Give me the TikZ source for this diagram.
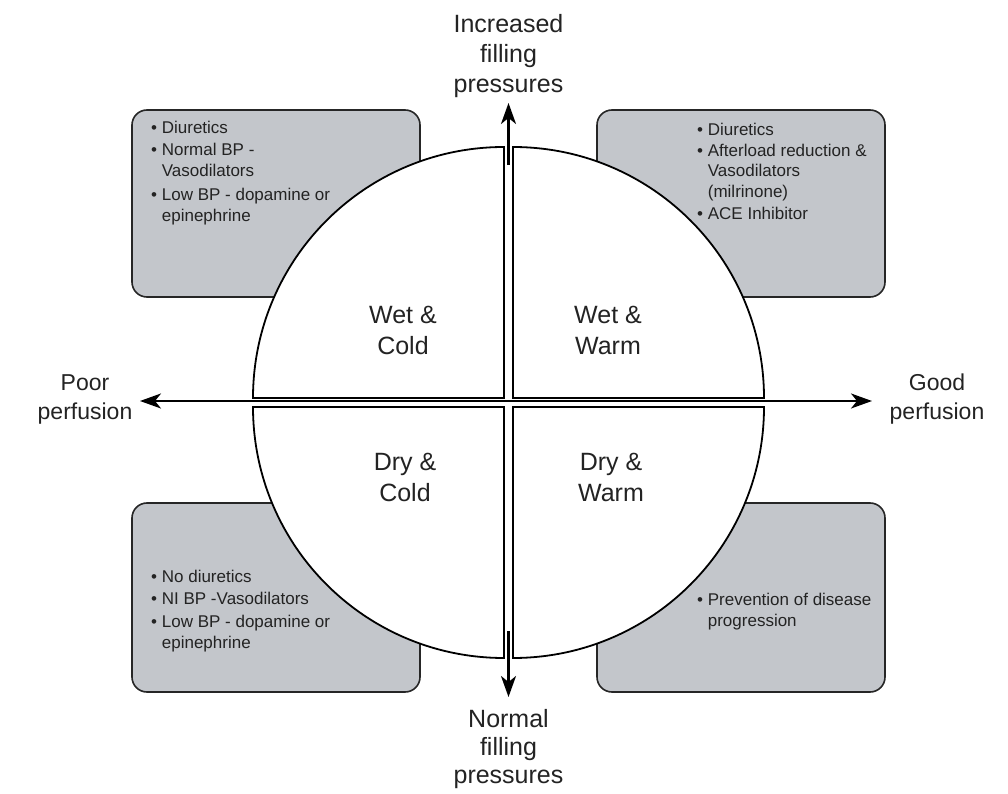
\documentclass[tikz,border=0pt]{standalone}
\usepackage{fontspec}
\setmainfont{Liberation Sans}
\usetikzlibrary{arrows.meta}
\definecolor{boxgray}{RGB}{195,198,203}
\definecolor{txt}{RGB}{35,35,35}
\begin{document}
\begin{tikzpicture}[x=1pt,y=1pt,
  infobox/.style={draw=black!85, line width=1.6pt, fill=boxgray, rounded corners=15pt},
  quad/.style={draw=black, line width=1.8pt, fill=white},
  tipstyle/.style={line width=2.2pt},
  biglabel/.style={font=\fontsize{25}{30}\selectfont, align=center, text=txt, inner sep=0pt, anchor=north},
  sidelabel/.style={biglabel, font=\fontsize{23}{29}\selectfont},
  boxtext/.style={font=\fontsize{17}{20.5}\selectfont, align=left, text=txt, inner sep=0pt, anchor=north west}
]
\useasboundingbox (0,0) rectangle (1008,793);
\fill[white] (0,0) rectangle (1008,793);

% grey treatment boxes
\draw[infobox] (132,496) rectangle (420,683);
\draw[infobox] (597,496) rectangle (885,683);
\draw[infobox] (132,101) rectangle (420,290);
\draw[infobox] (597,101) rectangle (885,290);

% four quadrants
\draw[quad] (504,395) -- (253,395) arc[start angle=180, end angle=90, radius=251pt] -- cycle;
\draw[quad] (513,395) -- (513,646) arc[start angle=90, end angle=0, radius=251pt] -- cycle;
\draw[quad] (504,386) -- (504,135) arc[start angle=270, end angle=180, radius=251pt] -- cycle;
\draw[quad] (513,386) -- (764,386) arc[start angle=0, end angle=-90, radius=251pt] -- cycle;

% axes
\coordinate (hl) at (140,392);
\coordinate (hr) at (872,392);
\coordinate (vtopin) at (508.5,628);
\coordinate (vtop) at (508.5,690);
\coordinate (vbotin) at (508.5,162);
\coordinate (vbot) at (508.5,96);
\draw[tipstyle, {Stealth[length=21pt,width=15pt,inset=6pt]}-{Stealth[length=21pt,width=15pt,inset=6pt]}] (hl) -- (hr);
\draw[tipstyle, -{Stealth[length=21pt,width=15pt,inset=6pt]}] (vtopin) -- (vtop);
\draw[tipstyle, -{Stealth[length=21pt,width=15pt,inset=6pt]}] (vbotin) -- (vbot);

% axis labels
\node[biglabel] (inc) at (508.5,779) {Increased\\filling\\pressures};
\node[biglabel, font=\fontsize{25}{28}\selectfont] (nor) at (508.5,84) {Normal\\filling\\pressures};
\node[sidelabel] (poor) at (85,419) {Poor\\perfusion};
\node[sidelabel] (good) at (937,419) {Good\\perfusion};

% quadrant labels
\node[biglabel, font=\fontsize{25}{31}\selectfont] (wc) at (403,487) {Wet \&\\Cold};
\node[biglabel, font=\fontsize{25}{31}\selectfont] (ww) at (608,487) {Wet \&\\Warm};
\node[biglabel, font=\fontsize{25}{31}\selectfont] (dc) at (405,340) {Dry \&\\Cold};
\node[biglabel, font=\fontsize{25}{31}\selectfont] (dw) at (611,340) {Dry \&\\Warm};

% box texts
\node[boxtext] (tlt) at (151,672) {\textbullet\ Diuretics\\[1.5pt]
  \textbullet\ Normal BP -\\
  \hphantom{\textbullet\ }Vasodilators\\[4pt]
  \textbullet\ Low BP - dopamine or\\
  \hphantom{\textbullet\ }epinephrine};
\node[boxtext] (trt) at (697,670) {\textbullet\ Diuretics\\
  \textbullet\ Afterload reduction \&\\
  \hphantom{\textbullet\ }Vasodilators\\
  \hphantom{\textbullet\ }(milrinone)\\[1.5pt]
  \textbullet\ ACE Inhibitor};
\node[boxtext] (blt) at (151,223) {\textbullet\ No diuretics\\[1.5pt]
  \textbullet\ NI BP -Vasodilators\\[2.5pt]
  \textbullet\ Low BP - dopamine or\\
  \hphantom{\textbullet\ }epinephrine};
\node[boxtext] (brt) at (697,200) {\textbullet\ Prevention of disease\\
  \hphantom{\textbullet\ }progression};
\end{tikzpicture}
\end{document}
